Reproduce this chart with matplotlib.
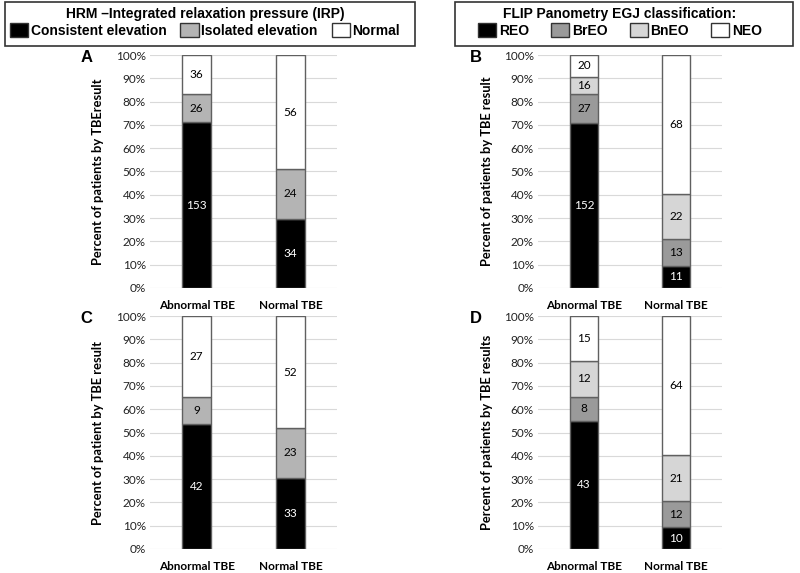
import numpy as np
import matplotlib.pyplot as plt
from matplotlib.patches import Patch, Rectangle

cats = ['Abnormal TBE', 'Normal TBE']

# HRM IRP counts (panels A and C)
irp_names = ['Consistent elevation', 'Isolated elevation', 'Normal']
a_consistent = [153, 34]
a_isolated = [26, 24]
a_normal = [36, 56]
c_consistent = [42, 33]
c_isolated = [9, 23]
c_normal = [27, 52]

# FLIP EGJ counts (panels B and D)
flip_names = ['REO', 'BrEO', 'BnEO', 'NEO']
b_reo = [152, 11]
b_breo = [27, 13]
b_bneo = [16, 22]
b_neo = [20, 68]
d_reo = [43, 10]
d_breo = [8, 12]
d_bneo = [12, 21]
d_neo = [15, 64]

irp_colors = ['#000000', '#b4b4b4', '#ffffff']
flip_colors = ['#000000', '#9a9a9a', '#d6d6d6', '#ffffff']

calibri = ['Lato', 'DejaVu Sans']
arial = ['Liberation Sans', 'DejaVu Sans']

fig = plt.figure(figsize=(8, 5.73), dpi=100)

def panel(rect, series, colors, ylabel, letter):
    ax = fig.add_axes(rect)
    x = np.arange(len(cats))
    counts = np.array(series, dtype=float)
    totals = counts.sum(axis=0)
    pct = counts / totals * 100
    bottom = np.zeros(len(cats))
    for i, row in enumerate(pct):
        ax.bar(x, row, 0.31, bottom=bottom, color=colors[i],
               edgecolor='#606060', linewidth=1.0, zorder=3)
        for j in range(len(cats)):
            tc = 'white' if colors[i] == '#000000' else 'black'
            ax.text(x[j], bottom[j] + row[j] / 2, str(int(counts[i][j])),
                    ha='center', va='center', fontsize=8.5, color=tc,
                    family=calibri, zorder=4)
        bottom += row
    ax.set_xlim(-0.5, 1.5)
    ax.set_ylim(0, 100)
    ax.set_yticks(range(0, 101, 10))
    ax.set_yticklabels([f'{v}%' for v in range(0, 101, 10)], family=calibri,
                       fontsize=8.5, color='#222222')
    ax.set_xticks(x)
    ax.set_xticklabels(cats, family=calibri, fontsize=8.5, fontweight='bold')
    ax.tick_params(length=0, pad=3)
    ax.tick_params(axis='x', pad=8.5)
    ax.grid(axis='y', color='#d9d9d9', linewidth=0.8, zorder=0)
    for s in ax.spines.values():
        s.set_visible(False)
    ax.set_ylabel(ylabel, family=calibri, fontsize=9.3, fontweight='bold')
    ax.yaxis.set_label_coords(-0.245, 0.5)
    ax.text(-0.34, 0.99, letter, transform=ax.transAxes, fontsize=12,
            fontweight='bold', family=arial, ha='center', va='center')
    return ax

panel([0.1875, 0.4974, 0.234, 0.4066], [a_consistent, a_isolated, a_normal],
      irp_colors, 'Percent of patients by TBEresult', 'A')
panel([0.6725, 0.4974, 0.23, 0.4066], [b_reo, b_breo, b_bneo, b_neo],
      flip_colors, 'Percent of patients by TBE result', 'B')
panel([0.1875, 0.0419, 0.234, 0.4066], [c_consistent, c_isolated, c_normal],
      irp_colors, 'Percent of patient by TBE result', 'C')
panel([0.6725, 0.0419, 0.23, 0.4066], [d_reo, d_breo, d_bneo, d_neo],
      flip_colors, 'Percent of patients by TBE results', 'D')

# legend boxes
for x0, x1 in [(5, 415), (455, 793)]:
    fig.patches.append(Rectangle((x0 / 800, 1 - 46 / 573), (x1 - x0) / 800, 44 / 573,
                                 transform=fig.transFigure, facecolor='white',
                                 edgecolor='#333333', linewidth=1.2))

leg_font = {'family': arial, 'size': 10, 'weight': 'bold'}

irp_handles = [Patch(facecolor=c, edgecolor='#333333') for c in irp_colors]
fig.legend(irp_handles, irp_names, loc='upper center', ncol=3,
           bbox_to_anchor=(205 / 800, 1 - 6 / 573),
           title='HRM \u2013Integrated relaxation pressure (IRP)',
           prop=leg_font, title_fontproperties=leg_font,
           handlelength=1.3, handleheight=1.25, handletextpad=0.2,
           columnspacing=1.0, borderaxespad=0, borderpad=0.1,
           labelspacing=0.1, frameon=False)

flip_handles = [Patch(facecolor=c, edgecolor='#333333') for c in flip_colors]
fig.legend(flip_handles, flip_names, loc='upper center', ncol=4,
           bbox_to_anchor=(620 / 800, 1 - 6 / 573),
           title='FLIP Panometry EGJ classification:',
           prop=leg_font, title_fontproperties=leg_font,
           handlelength=1.3, handleheight=1.25, handletextpad=0.2,
           columnspacing=1.6, borderaxespad=0, borderpad=0.1,
           labelspacing=0.1, frameon=False)

fig.savefig('out.png', dpi=100)
